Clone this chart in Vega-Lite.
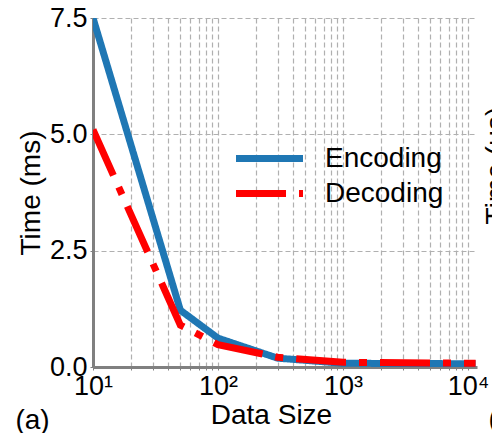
{
  "$schema": "https://vega.github.io/schema/vega-lite/v6.json",
  "width": 384,
  "height": 349,
  "autosize": {"type": "none"},
  "padding": {"left": 93, "top": 18, "right": 15, "bottom": 66},
  "config": {
    "font": "Liberation Sans",
    "view": {"stroke": null},
    "axis": {
      "labelColor": "black",
      "titleColor": "black",
      "titleFontWeight": "normal",
      "domainColor": "#808080",
      "domainWidth": 3,
      "tickColor": "#808080",
      "tickSize": 3,
      "gridColor": "#b0b0b0",
      "gridDash": [5, 3],
      "gridWidth": 1.2,
      "gridOpacity": 1
    },
    "legend": {
      "rowPadding": 0
    }
  },
  "title": {
    "text": "(a)",
    "orient": "bottom",
    "anchor": "start",
    "frame": "bounds",
    "fontSize": 28,
    "fontWeight": "normal",
    "color": "black",
    "dy": -30,
    "dx": -2
  },
  "data": {
    "values": [
      {"size": 10, "time": 7.5, "series": "Encoding"},
      {"size": 50, "time": 1.22, "series": "Encoding"},
      {"size": 100, "time": 0.62, "series": "Encoding"},
      {"size": 300, "time": 0.19, "series": "Encoding"},
      {"size": 1000, "time": 0.08, "series": "Encoding"},
      {"size": 11500, "time": 0.07, "series": "Encoding"},
      {"size": 10, "time": 5.1, "series": "Decoding"},
      {"size": 50, "time": 0.9, "series": "Decoding"},
      {"size": 100, "time": 0.48, "series": "Decoding"},
      {"size": 300, "time": 0.21, "series": "Decoding"},
      {"size": 1000, "time": 0.1, "series": "Decoding"},
      {"size": 11500, "time": 0.08, "series": "Decoding"}
    ]
  },
  "layer": [
    {
      "transform": [{"filter": "datum.series == 'Encoding'"}],
      "mark": {"type": "line", "strokeWidth": 7, "clip": true},
      "encoding": {
        "x": {
          "field": "size", "type": "quantitative",
          "scale": {"type": "log", "domain": [10, 11800], "nice": false},
          "axis": {
            "title": "Data Size",
            "titleFontSize": 28,
            "titlePadding": 2,
            "titleX": 178,
            "labelFontSize": 27,
            "labelPadding": 3,
            "labelOverlap": false,
            "labelFlush": false,
            "labelBound": false,
            "values": [10, 20, 30, 40, 50, 60, 70, 80, 90, 100, 200, 300, 400, 500, 600, 700, 800, 900, 1000, 2000, 3000, 4000, 5000, 6000, 7000, 8000, 9000, 10000],
            "labelExpr": "datum.value == 10 ? '10¹' : datum.value == 100 ? '10²' : datum.value == 1000 ? '10³' : datum.value == 10000 ? '10⁴' : ''",
            "grid": true
          }
        },
        "y": {
          "field": "time", "type": "quantitative",
          "scale": {"domain": [0, 7.5], "nice": false, "zero": true},
          "axis": {
            "title": "Time (ms)",
            "titleFontSize": 28,
            "titlePadding": 4,
            "labelFontSize": 27,
            "labelPadding": 3,
            "values": [0, 2.5, 5, 7.5],
            "format": ".1f",
            "grid": true
          }
        },
        "color": {
          "field": "series", "type": "nominal",
          "scale": {"domain": ["Encoding", "Decoding"], "range": ["#1f77b4", "#ff0000"]},
          "legend": {
            "title": null,
            "orient": "none",
            "legendX": 156,
            "legendY": 120,
            "symbolType": "M-2,0H2",
            "symbolSize": 1122,
            "symbolStrokeWidth": 7,
            "labelFontSize": 28,
            "labelColor": "black",
            "labelOffset": 35,
            "rowPadding": 0
          }
        },
        "strokeDash": {
          "field": "series", "type": "nominal",
          "scale": {"domain": ["Encoding", "Decoding"], "range": [[1, 0], [50, 13, 8, 13]]},
          "legend": {
            "title": null,
            "orient": "none",
            "legendX": 156,
            "legendY": 120,
            "symbolType": "M-2,0H2",
            "symbolSize": 1122,
            "symbolStrokeWidth": 7,
            "labelFontSize": 28,
            "labelColor": "black",
            "labelOffset": 35,
            "rowPadding": 0
          }
        }
      }
    },
    {
      "transform": [{"filter": "datum.series == 'Decoding'"}],
      "mark": {"type": "line", "strokeWidth": 7, "clip": true},
      "encoding": {
        "x": {
          "field": "size", "type": "quantitative",
          "scale": {"type": "log", "domain": [10, 11800], "nice": false},
          "axis": {
            "orient": "bottom",
            "title": "(b)",
            "titleFontSize": 28,
            "labels": false,
            "ticks": false,
            "domain": false,
            "grid": false,
            "titleX": 395,
            "titleY": 60,
            "titleAlign": "left",
            "titleBaseline": "alphabetic"
          }
        },
        "y": {
          "field": "time", "type": "quantitative",
          "scale": {"domain": [0, 7.5], "nice": false, "zero": true},
          "axis": {
            "orient": "right",
            "title": "Time (μs)",
            "titleFontSize": 28,
            "labels": false,
            "ticks": false,
            "domain": false,
            "grid": false,
            "titleAngle": 270,
            "titleX": 5,
            "titleY": 147,
            "titleAlign": "center",
            "titleBaseline": "top"
          }
        },
        "color": {
          "field": "series", "type": "nominal",
          "scale": {"domain": ["Encoding", "Decoding"], "range": ["#1f77b4", "#ff0000"]}
        },
        "strokeDash": {
          "field": "series", "type": "nominal",
          "scale": {"domain": ["Encoding", "Decoding"], "range": [[1, 0], [50, 13, 8, 13]]}
        }
      }
    }
  ],
  "resolve": {"scale": {"x": "independent", "y": "independent"}, "axis": {"x": "independent", "y": "independent"}}
}
